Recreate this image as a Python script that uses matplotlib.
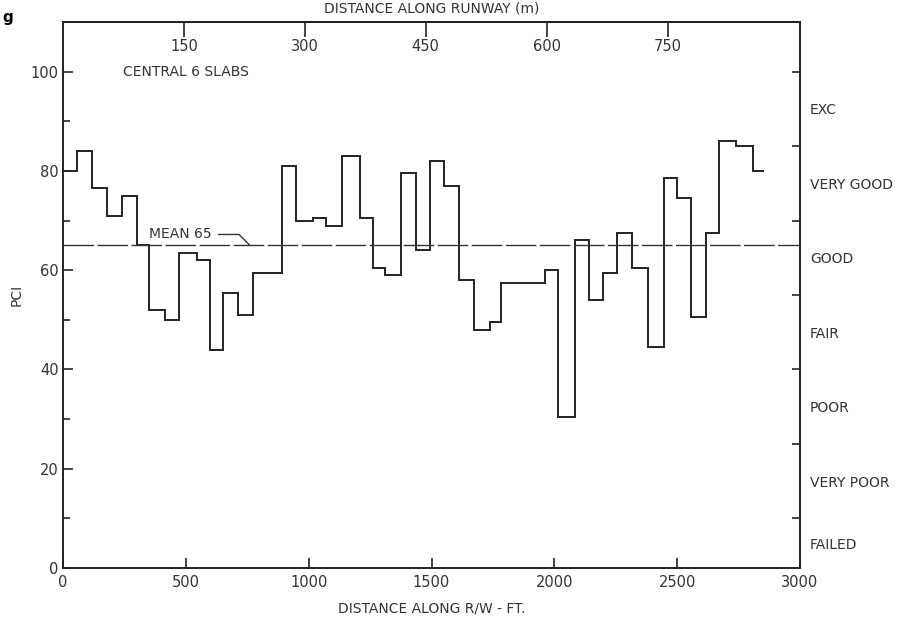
import matplotlib
matplotlib.use("Agg")
import matplotlib.pyplot as plt
import numpy as np

# step boundaries along the runway (ft) and PCI of each section
edges_ft = [0, 58, 117, 178, 240, 300, 350, 415, 474, 544, 598, 650, 714, 775,
            893, 947, 1017, 1072, 1137, 1207, 1261, 1311, 1375, 1436, 1494,
            1551, 1612, 1673, 1738, 1783, 1962, 2014, 2084, 2143, 2200, 2257,
            2318, 2383, 2448, 2501, 2556, 2617, 2672, 2739, 2807, 2855]
pci = [80, 84, 76.5, 71, 75, 65, 52, 50, 63.5, 62, 44, 55.5, 51, 59.5, 81,
       70, 70.5, 69, 83, 70.5, 60.5, 59, 79.5, 64, 82, 77, 58, 48, 49.5, 57.5,
       60, 30.5, 66, 54, 59.5, 67.5, 60.5, 44.5, 78.5, 74.5, 50.5, 67.5, 86,
       85, 80]
mean_pci = 65

ft_ticks = [0, 500, 1000, 1500, 2000, 2500, 3000]
m_ticks = [150, 300, 450, 600, 750]
pci_ticks = [0, 20, 40, 60, 80, 100]

rating_bounds = [10, 25, 40, 55, 70, 85, 100]
rating_names = ["FAILED", "VERY POOR", "POOR", "FAIR", "GOOD", "VERY GOOD", "EXC"]

FT_PER_M = 3.2808

fig = plt.figure(figsize=(8.97, 6.38), dpi=100)
ax = fig.add_axes([0.0702, 0.1097, 0.8217, 0.8558])

ax.stairs(pci, edges_ft, baseline=None, color="#222222", lw=1.4)
mline, = ax.plot([0, 3000], [mean_pci, mean_pci], color="#333333", lw=1.0)
mline.set_dashes([22, 2.5])

ax.set_xlim(0, 3000)
ax.set_ylim(0, 110)
for s in ax.spines.values():
    s.set_linewidth(1.4)
    s.set_color("#222222")

ax.set_xticks(ft_ticks)
ax.set_yticks(pci_ticks)
ax.set_yticks(np.arange(10, 100, 20), minor=True)
ax.tick_params(axis="both", which="both", direction="in", labelsize=10.5,
               color="#222222", labelcolor="#333333")
ax.tick_params(axis="both", which="major", length=7, width=1.2, pad=3)
ax.tick_params(axis="y", which="minor", length=5, width=1.2)
ax.tick_params(axis="x", which="major", pad=5)

ax.set_xlabel("DISTANCE ALONG R/W - FT.", fontsize=10, color="#333333", labelpad=8)
ax.set_ylabel("PCI", fontsize=10, color="#333333", labelpad=5)

# top axis in metres
top = ax.secondary_xaxis("top", functions=(lambda x: x / FT_PER_M, lambda m: m * FT_PER_M))
top.set_xticks(m_ticks)
top.tick_params(direction="in", length=11, width=1.2, pad=-23, labelsize=10.5,
                color="#222222", labelcolor="#333333")
top.set_xlabel("DISTANCE ALONG RUNWAY (m)", fontsize=10, color="#333333", labelpad=7)
top.spines["top"].set_linewidth(1.4)

# right axis with condition ratings
right = ax.twinx()
right.set_ylim(ax.get_ylim())
right.set_yticks(rating_bounds)
right.set_yticklabels([])
mids = [5] + [(a + b) / 2 for a, b in zip(rating_bounds[:-1], rating_bounds[1:])]
right.set_yticks(mids, minor=True)
right.set_yticklabels(rating_names, minor=True)
right.tick_params(axis="y", which="major", direction="in", length=6, width=1.2, color="#222222")
right.tick_params(axis="y", which="minor", length=0, pad=7, labelsize=10, labelcolor="#333333")
for s in right.spines.values():
    s.set_visible(False)

ax.text(244, 100, "CENTRAL 6 SLABS", fontsize=10, color="#333333", va="center")
ax.annotate("MEAN 65", xy=(761, mean_pci), xytext=(350, 67.2), fontsize=10,
            color="#333333", va="center",
            arrowprops=dict(arrowstyle="-", color="#333333", lw=1.0, shrinkA=3, shrinkB=0,
                            connectionstyle="angle,angleA=0,angleB=135,rad=0"))

fig.text(0.003, 0.972, "g", fontsize=11, fontweight="bold", va="center")

fig.savefig("out.png", dpi=100)
